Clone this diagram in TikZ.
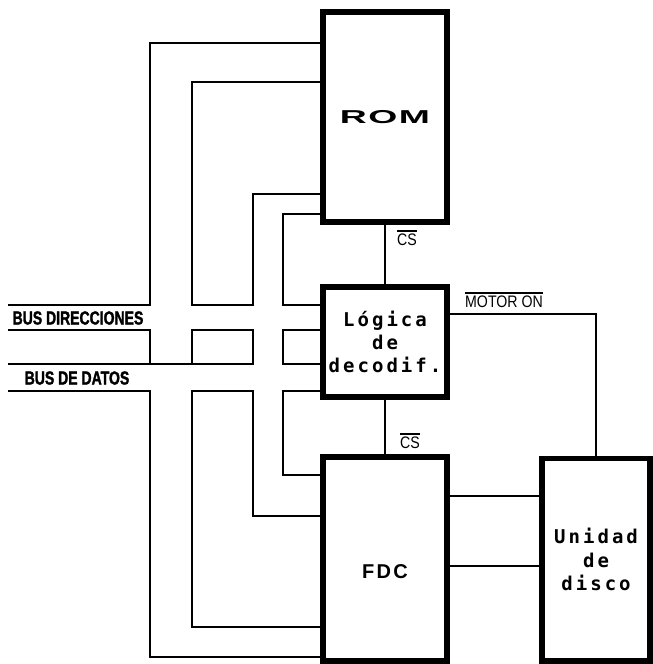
\documentclass[tikz,border=0pt]{standalone}
\usepackage{fontspec}
\setmainfont{Liberation Sans}
\newfontfamily\boxfont{DejaVu Sans Mono}[LetterSpace=16]
\newfontfamily\romfont{Liberation Sans}[FakeStretch=2.0,LetterSpace=8]
\newfontfamily\fdcfont{Liberation Sans}[LetterSpace=12]
\newfontfamily\busfont{Liberation Sans}[FakeStretch=0.74,FakeBold=1.5]
\newfontfamily\sigfont{Liberation Sans}[FakeStretch=0.85]
\newcommand\negado[1]{\vbox{\hrule height 1.2pt\kern 1.6pt\hbox{#1}}}

\begin{document}
\begin{tikzpicture}[
    x=0.75pt, y=-0.75pt,
    box/.style={draw, line width=4pt, inner sep=0pt, align=center,
        font=\boxfont\bfseries\fontsize{14.25}{17.5}\selectfont},
    wire/.style={line width=2.2pt},
    buslabel/.style={inner sep=0pt, font=\busfont\bfseries\fontsize{14.2}{16}\selectfont},
    signal/.style={inner sep=0pt, font=\sigfont\fontsize{12.5}{15}\selectfont}
]
    \useasboundingbox (0,0) rectangle (653,664);

    \node[box, minimum width=93pt, minimum height=157.5pt] (rom) at (385,117) {\romfont\fontsize{14}{16}\selectfont ROM};
    \node[box, minimum width=93pt, minimum height=82.5pt] (logic) at (385,342) {Lógica\\de\\decodif.};
    \node[box, minimum width=93pt, minimum height=153pt,
        font=\fdcfont\bfseries\fontsize{15}{19}\selectfont] (fdc) at (385,559) {\phantom{F}\\FDC};
    \node[box, minimum width=81pt, minimum height=152pt] (disk) at (596,559.5) {Unidad\\de\\disco};

    \coordinate (dirA) at (8,305);
    \coordinate (dirB) at (8,330);
    \coordinate (datA) at (8,364);
    \coordinate (datB) at (8,391);

    \draw[wire] (dirA) -| (150,43) -- (rom.west |- 0,43);
    \draw[wire] (rom.west |- 0,82) -| (192,305) -| (253,194) -- (rom.west |- 0,194);
    \draw[wire] (rom.west |- 0,214) -| (283,305) -- (logic.west |- 0,305);
    \draw[wire] (dirB) -| (150,364);
    \draw[wire] (datA) -- (253,364) |- (192,330) -- (192,364);
    \draw[wire] (logic.west |- 0,330) -| (283,364) -- (logic.west |- 0,364);
    \draw[wire] (datB) -| (150,657) -- (fdc.west |- 0,657);
    \draw[wire] (fdc.west |- 0,627) -| (192,391) -| (253,516) -- (fdc.west |- 0,516);
    \draw[wire] (logic.west |- 0,391) -| (283,475) -- (fdc.west |- 0,475);

    \draw[wire] (rom) -- (logic);
    \draw[wire] (logic) -- (fdc);
    \draw[wire] (logic.east |- 0,314) -| (disk.north);
    \draw[wire] (fdc.east |- 0,496) -- (disk.west |- 0,496);
    \draw[wire] (fdc.east |- 0,566) -- (disk.west |- 0,566);

    \node[buslabel] (lbldir) at (78,318) {BUS DIRECCIONES};
    \node[buslabel] (lbldat) at (77,378) {BUS DE DATOS};
    \node[signal] (csrom) at (407,238) {\negado{CS}};
    \node[signal] (csfdc) at (410,441) {\negado{CS}};
    \node[signal] (motor) at (504,300) {\negado{MOTOR ON}};
\end{tikzpicture}
\end{document}
